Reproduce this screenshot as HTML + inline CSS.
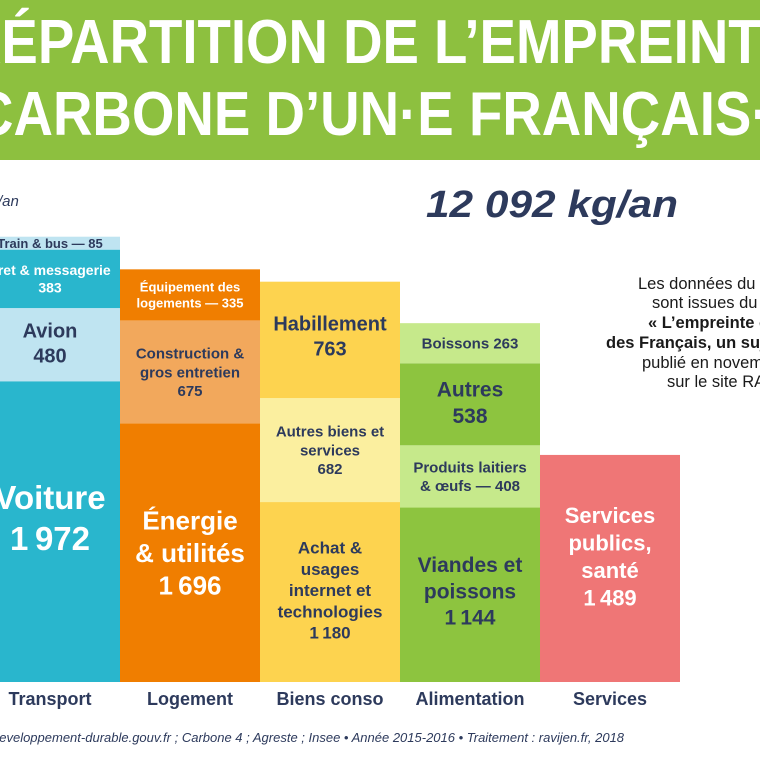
<!DOCTYPE html>
<html><head><meta charset="utf-8">
<style>
html,body{margin:0;padding:0;background:#fff;overflow:hidden}
svg{display:block}
text{font-family:"Liberation Sans",sans-serif}
</style></head>
<body>
<svg id="chart" width="760" height="760" viewBox="0 0 760 760">
<rect x="0" y="0" width="760" height="160" fill="#8dc03f"/>
<text x="-38" y="63" textLength="836" lengthAdjust="spacingAndGlyphs" fill="#fff" font-weight="bold" font-size="62" style="font-family:'Liberation Sans Narrow','Liberation Sans',sans-serif">RÉPARTITION DE L’EMPREINTE</text>
<text x="-26" y="135" textLength="832" lengthAdjust="spacingAndGlyphs" fill="#fff" font-weight="bold" font-size="62" style="font-family:'Liberation Sans Narrow','Liberation Sans',sans-serif">CARBONE D’UN·E FRANÇAIS·E</text>
<text x="-2" y="206" fill="#2d3a5c" font-style="italic" font-size="15">/an</text>
<text x="426" y="217" textLength="252" lengthAdjust="spacingAndGlyphs" fill="#2d3a5c" font-style="italic" font-weight="bold" font-size="38" style="font-family:'Liberation Sans Narrow','Liberation Sans',sans-serif">12 092 kg/an</text>
<g id="note" fill="#1a1a1a" font-size="16.5">
<text x="638" y="289">Les données du graphique</text>
<text x="652" y="308">sont issues du rapport</text>
<text x="648" y="328" font-weight="bold">« L’empreinte carbone</text>
<text x="606" y="348" font-weight="bold">des Français, un sujet »</text>
<text x="642" y="368">publié en novembre 2018</text>
<text x="667" y="387">sur le site RAC</text>
</g>
<g id="bars"></g>
<text x="-8" y="742" fill="#2d3a5c" font-style="italic" font-size="13" style="font-family:'Liberation Sans Narrow','Liberation Sans',sans-serif">developpement-durable.gouv.fr ; Carbone 4 ; Agreste ; Insee • Année 2015-2016 • Traitement : ravijen.fr, 2018</text>
</svg>
<script>
const categories = ["Transport","Logement","Biens conso","Alimentation","Services"];
const transportValues = [1972, 480, 383, 85];
const logementValues = [1696, 675, 335];
const biensValues = [1180, 682, 763];
const alimentationValues = [1144, 408, 538, 263];
const servicesValues = [1489];
const transportLabels = [["Voiture"],["Avion"],["Fret & messagerie"],["Train & bus — "]];
const logementLabels = [["Énergie","& utilités"],["Construction &","gros entretien"],["Équipement des","logements — "]];
const biensLabels = [["Achat &","usages","internet et","technologies"],["Autres biens et","services"],["Habillement"]];
const alimentationLabels = [["Viandes et","poissons"],["Produits laitiers","& œufs — "],["Autres"],["Boissons "]];
const servicesLabels = [["Services","publics,","santé"]];

const series=[transportValues,logementValues,biensValues,alimentationValues,servicesValues];
const labels=[transportLabels,logementLabels,biensLabels,alimentationLabels,servicesLabels];
const colors=[["#29b6cd","#bfe4f1","#29b6cd","#bfe4f1"],["#f07e00","#f2a85c","#f07e00"],["#fdd34f","#fbef9f","#fdd34f"],["#8dc43f","#c6e98b","#8dc43f","#c6e98b"],["#ef7676"]];
const txtColors=[["#fff","#2d3a5c","#fff","#2d3a5c"],["#fff","#2d3a5c","#fff"],["#2d3a5c","#2d3a5c","#2d3a5c"],["#2d3a5c","#2d3a5c","#2d3a5c","#2d3a5c"],["#fff"]];
const fontSizes=[[33,20,14,13],[26,15,13],[17,15,20],[21,15,21,15],[22]];
const inlineVal=[[false,false,false,true],[false,false,true],[false,false,false],[false,true,false,true],[false]];
const labelShift=[[-14,-2,0,0],[0,0,0],[-2,0,-4],[-4,0,-2,0],[-12]];
const baseY=682, k=0.1525, barW=140, x0=-20;
const xPos=i=>x0+i*barW;
const yScale=v=>v*k;
const fmt=v=>v>=1000?String(v).replace(/(\d)(\d{3})$/,"$1\u2009$2"):String(v);
const NS="http://www.w3.org/2000/svg";
const g=document.getElementById("bars");
series.forEach((vals,i)=>{
  let y=baseY;
  vals.forEach((v,j)=>{
    const h=yScale(v); y-=h;
    const r=document.createElementNS(NS,"rect");
    r.setAttribute("x",xPos(i));r.setAttribute("y",y);r.setAttribute("width",barW);r.setAttribute("height",h);r.setAttribute("fill",colors[i][j]);
    
    
    g.appendChild(r);
    let lines=labels[i][j].slice();
    if(inlineVal[i][j]) lines[lines.length-1]+=fmt(v); else lines.push(fmt(v));
    const fs=fontSizes[i][j], lh=fs*1.25;
    const cy=y+h/2+labelShift[i][j], start=cy-(lines.length-1)*lh/2+fs*0.36;
    const t=document.createElementNS(NS,"text");
    t.setAttribute("text-anchor","middle");t.setAttribute("font-weight","bold");t.setAttribute("font-size",fs);t.setAttribute("fill",txtColors[i][j]);
    
    
    lines.forEach((ln,m)=>{const s=document.createElementNS(NS,"tspan");s.setAttribute("x",xPos(i)+barW/2);s.setAttribute("y",start+m*lh);s.textContent=ln;t.appendChild(s);});
    g.appendChild(t);
  });
  const c=document.createElementNS(NS,"text");
  c.setAttribute("x",xPos(i)+barW/2);c.setAttribute("y",705);c.setAttribute("text-anchor","middle");c.setAttribute("font-weight","bold");c.setAttribute("font-size","18");c.setAttribute("fill","#2d3a5c");
  c.setAttribute("style","font-family:'Liberation Sans Narrow','Liberation Sans',sans-serif");
  
  
  c.textContent=categories[i];
  g.appendChild(c);
});
</script>
</body></html>
